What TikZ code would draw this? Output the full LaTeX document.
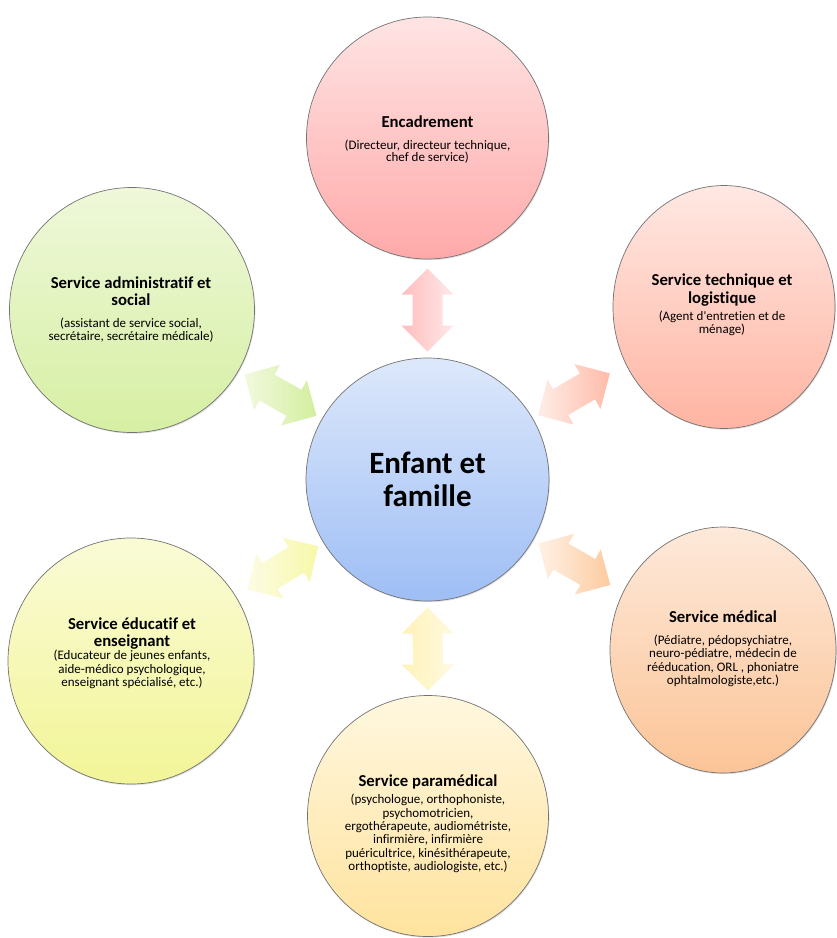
\documentclass[tikz,border=0pt]{standalone}
\usepackage{fontspec}
\setmainfont{Carlito}[Ligatures={TeX,NoCommon}]
\usetikzlibrary{calc,shapes.geometric,shadows}

\definecolor{cenTop}{HTML}{DDE8FB}
\definecolor{cenBot}{HTML}{9EBEF5}
\definecolor{encTop}{HTML}{FFE4E4}
\definecolor{encBot}{HTML}{FFA9A9}
\definecolor{tecTop}{HTML}{FFE8E3}
\definecolor{tecBot}{HTML}{FFB4A2}
\definecolor{medTop}{HTML}{FDE9DA}
\definecolor{medBot}{HTML}{FCC497}
\definecolor{parTop}{HTML}{FFF7DF}
\definecolor{parBot}{HTML}{FFE39E}
\definecolor{eduTop}{HTML}{FAFBD6}
\definecolor{eduBot}{HTML}{F2F597}
\definecolor{admTop}{HTML}{EFF8DA}
\definecolor{admBot}{HTML}{D6EFA3}

\tikzset{
  bubble/.style={circle, draw=black!55, line width=0.7pt, inner sep=0pt,
    drop shadow={shadow xshift=0.8pt, shadow yshift=-1.2pt, opacity=0.25}},
  oval/.style={ellipse, draw=black!55, line width=0.7pt, inner sep=0pt,
    drop shadow={shadow xshift=0.8pt, shadow yshift=-1.2pt, opacity=0.25}},
  ttl/.style={font=\fontsize{16.7}{17.5}\selectfont\bfseries, align=center, inner sep=0pt},
  subtxt/.style={font=\fontsize{13}{13.4}\selectfont, align=center, inner sep=0pt},
  bigttl/.style={font=\fontsize{31}{33}\selectfont\bfseries, align=center, inner sep=0pt},
}

\newcommand{\biarrow}[5]{%
  \definecolor{#3L}{HTML}{#4}%
  \definecolor{#3R}{HTML}{#5}%
  \coordinate (#3s) at ($(#1.center)!128pt!(#2.center)$);
  \coordinate (#3e) at ($(#1.center)!211pt!(#2.center)$);
  \coordinate (#3s1) at ($(#3s)!26pt!(#3e)$);
  \coordinate (#3e1) at ($(#3e)!26pt!(#3s)$);
  \shade[left color=#3L, right color=#3R]
    (#3s) -- ($(#3s1)!26pt!90:(#3e)$) -- ($(#3s1)!15pt!90:(#3e)$)
    -- ($(#3e1)!15pt!-90:(#3s)$) -- ($(#3e1)!26pt!-90:(#3s)$) -- (#3e)
    -- ($(#3e1)!26pt!90:(#3s)$) -- ($(#3e1)!15pt!90:(#3s)$)
    -- ($(#3s1)!15pt!-90:(#3e)$) -- ($(#3s1)!26pt!-90:(#3e)$) -- cycle;
}

\begin{document}
\begin{tikzpicture}[x=1pt, y=-1pt]
\useasboundingbox[fill=white] (0,0) rectangle (837,938);

% circles
\node[bubble, minimum size=243pt, top color=cenTop, bottom color=cenBot] (cen) at (427.5,479.5) {};
\node[bubble, minimum size=242pt, top color=encTop, bottom color=encBot] (enc) at (427.5,138) {};
\node[bubble, minimum size=245pt, top color=admTop, bottom color=admBot] (adm) at (132,310) {};
\node[oval, minimum width=222pt, minimum height=243pt, top color=tecTop, bottom color=tecBot] (tec) at (724,307) {};
\node[bubble, minimum size=246pt, top color=eduTop, bottom color=eduBot] (edu) at (131,661) {};
\node[oval, minimum width=226pt, minimum height=246pt, top color=medTop, bottom color=medBot] (med) at (723,650) {};
\node[bubble, minimum size=241pt, top color=parTop, bottom color=parBot] (par) at (428,816) {};

% arrows
\biarrow{cen}{enc}{aenc}{FFBDBD}{FFE8E8}
\biarrow{cen}{adm}{aadm}{F2F9DF}{D3EE9E}
\biarrow{cen}{tec}{atec}{FFEDE8}{FFBBA8}
\biarrow{cen}{edu}{aedu}{FCFCE4}{F7F8A8}
\biarrow{cen}{med}{amed}{FFF1E6}{FCCB9F}
\biarrow{cen}{par}{apar}{FFF2B8}{FFF9E0}

% texts
\node[bigttl] (tcen) at (427.5,479) {Enfant et\\famille};

\node[ttl] (tenc) at (427.5,122) {Encadrement};
\node[subtxt, font=\fontsize{13}{11.7}\selectfont] (senc) at (427.5,151.5) {(Directeur, directeur technique,\\chef de service)};

\node[ttl] (tadm) at (131,291) {Service administratif et\\social};
\node[subtxt] (sadm) at (131,330) {(assistant de service social,\\secrétaire, secrétaire médicale)};

\node[ttl] (ttec) at (722,290) {Service technique et\\logistique};
\node[subtxt] (stec) at (722,323.5) {(Agent d\textquotesingle entretien et de\\ménage)};

\node[ttl] (tedu) at (132,633.5) {Service éducatif et\\enseignant};
\node[subtxt] (sedu) at (132,669.5) {(Educateur de jeunes enfants,\\aide-médico psychologique,\\enseignant spécialisé, etc.)};

\node[ttl] (tmed) at (723,617) {Service médical};
\node[subtxt] (smed) at (723,661) {(Pédiatre, pédopsychiatre,\\neuro-pédiatre, médecin de\\rééducation, ORL , phoniatre\\ophtalmologiste,etc.)};

\node[ttl] (tpar) at (428,782) {Service paramédical};
\node[subtxt] (spar) at (428,833.5) {(psychologue, orthophoniste,\\psychomotricien,\\ergothérapeute, audiométriste,\\infirmière, infirmière\\puéricultrice,  kinésithérapeute,\\orthoptiste, audiologiste, etc.)};
\end{tikzpicture}
\end{document}
